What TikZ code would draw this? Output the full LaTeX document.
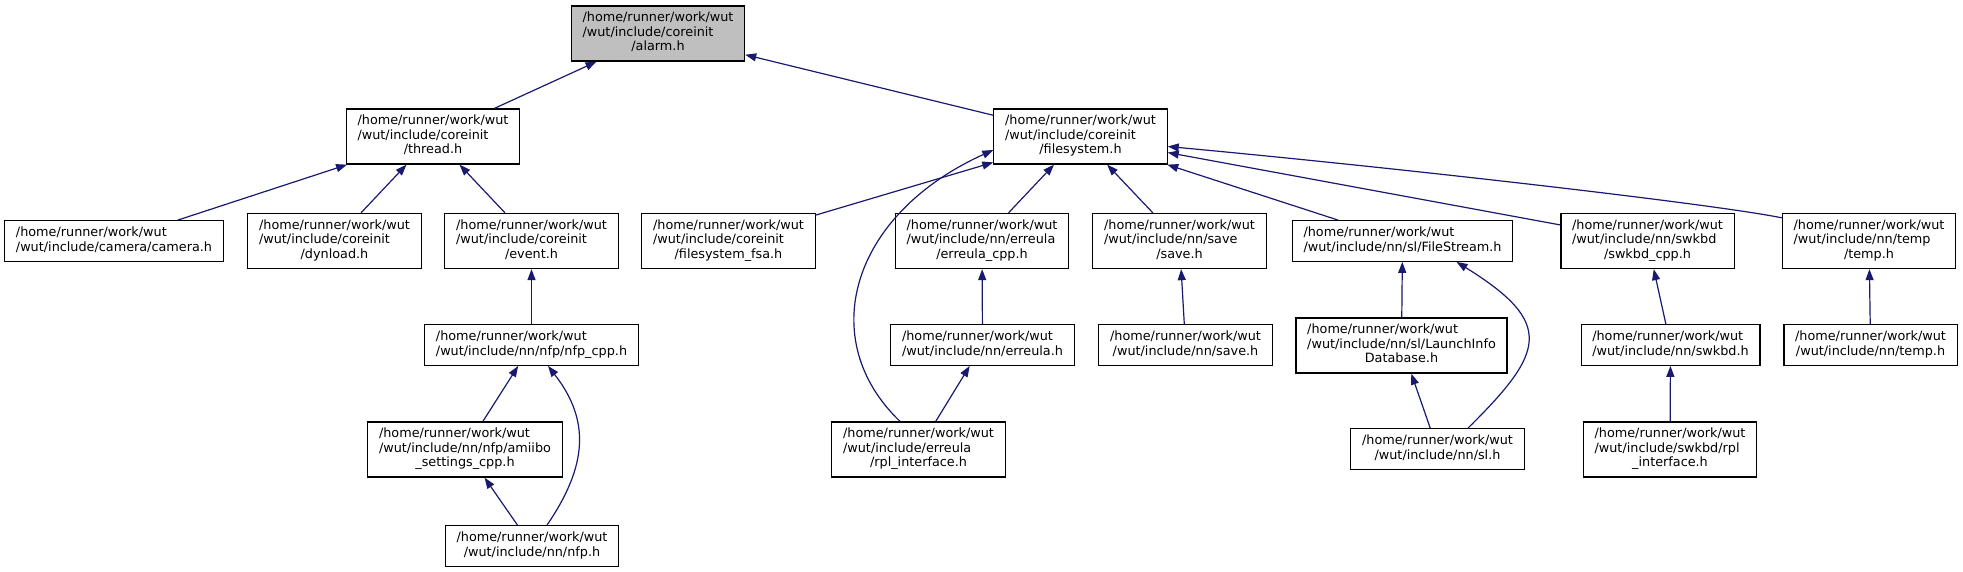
\documentclass[tikz,border=0pt]{standalone}
\usepackage{fontspec}
\setmainfont{DejaVu Sans}
\usepackage{tikz}
\usetikzlibrary{arrows.meta,calc}

\definecolor{edgeblue}{HTML}{191970}
\definecolor{rootgray}{HTML}{BFBFBF}

% header box text: leading lines flush left, last line centred
\newcommand{\hpathiii}[3]{\begin{tabular}{@{}l@{}}#1\\#2\\\multicolumn{1}{@{}c@{}}{#3}\end{tabular}}
\newcommand{\hpathii}[2]{\begin{tabular}{@{}l@{}}#1\\\multicolumn{1}{@{}c@{}}{#2}\end{tabular}}

\begin{document}
\begin{tikzpicture}[x=0.5pt, y=-0.5pt,
  hdr/.style={draw=black, line width=0.6pt, fill=white, inner xsep=5.6pt, inner ysep=2.9pt,
    font=\fontsize{6.4}{7.25}\selectfont},
  dep/.style={draw=edgeblue, line width=0.6pt, -{Triangle[length=5.5pt, width=4pt]}}]
\useasboundingbox (0,0) rectangle (1963,572);

% Root
\node[hdr, fill=rootgray] (alarm) at (658,33.5) {\hpathiii{/home/runner/work/wut}{/wut/include/coreinit}{/alarm.h}};

% Row 1
\node[hdr] (thread) at (433,136.5) {\hpathiii{/home/runner/work/wut}{/wut/include/coreinit}{/thread.h}};
\node[hdr] (fs) at (1080.5,136.5) {\hpathiii{/home/runner/work/wut}{/wut/include/coreinit}{/filesystem.h}};

% Row 2
\node[hdr] (camera) at (114,241) {\hpathii{/home/runner/work/wut}{/wut/include/camera/camera.h}};
\node[hdr] (dynload) at (334.5,241) {\hpathiii{/home/runner/work/wut}{/wut/include/coreinit}{/dynload.h}};
\node[hdr] (event) at (531.5,241) {\hpathiii{/home/runner/work/wut}{/wut/include/coreinit}{/event.h}};
\node[hdr] (fsa) at (728.5,241) {\hpathiii{/home/runner/work/wut}{/wut/include/coreinit}{/filesystem\_fsa.h}};
\node[hdr] (errcpp) at (982,241) {\hpathiii{/home/runner/work/wut}{/wut/include/nn/erreula}{/erreula\_cpp.h}};
\node[hdr] (savedir) at (1179.5,241) {\hpathiii{/home/runner/work/wut}{/wut/include/nn/save}{/save.h}};
\node[hdr] (filestream) at (1402.5,241) {\hpathii{/home/runner/work/wut}{/wut/include/nn/sl/FileStream.h}};
\node[hdr] (swkbdcpp) at (1647.5,241) {\hpathiii{/home/runner/work/wut}{/wut/include/nn/swkbd}{/swkbd\_cpp.h}};
\node[hdr] (tempdir) at (1869,241) {\hpathiii{/home/runner/work/wut}{/wut/include/nn/temp}{/temp.h}};

% Row 3
\node[hdr] (nfpcpp) at (531.5,345) {\hpathii{/home/runner/work/wut}{/wut/include/nn/nfp/nfp\_cpp.h}};
\node[hdr] (erreula) at (982.5,345) {\hpathii{/home/runner/work/wut}{/wut/include/nn/erreula.h}};
\node[hdr] (save) at (1185.5,345) {\hpathii{/home/runner/work/wut}{/wut/include/nn/save.h}};
\node[hdr] (launchinfo) at (1401.5,345.5) {\hpathiii{/home/runner/work/wut}{/wut/include/nn/sl/LaunchInfo}{Database.h}};
\node[hdr] (swkbd) at (1670.5,345) {\hpathii{/home/runner/work/wut}{/wut/include/nn/swkbd.h}};
\node[hdr] (temp) at (1870.5,345) {\hpathii{/home/runner/work/wut}{/wut/include/nn/temp.h}};

% Row 4
\node[hdr] (amiibo) at (465,449.5) {\hpathiii{/home/runner/work/wut}{/wut/include/nn/nfp/amiibo}{\_settings\_cpp.h}};
\node[hdr] (errrpl) at (918.5,449.5) {\hpathiii{/home/runner/work/wut}{/wut/include/erreula}{/rpl\_interface.h}};
\node[hdr] (sl) at (1437.5,449) {\hpathii{/home/runner/work/wut}{/wut/include/nn/sl.h}};
\node[hdr] (swkbdrpl) at (1670,449.5) {\hpathiii{/home/runner/work/wut}{/wut/include/swkbd/rpl}{\_interface.h}};

% Row 5
\node[hdr] (nfp) at (532,546) {\hpathii{/home/runner/work/wut}{/wut/include/nn/nfp.h}};

% Straight includes
\foreach \src/\dst in {thread/alarm, fs/alarm, camera/thread, dynload/thread, event/thread,
    nfpcpp/event, amiibo/nfpcpp, nfp/amiibo, fsa/fs, errcpp/fs, savedir/fs,
    filestream/fs, swkbdcpp/fs, erreula/errcpp, errrpl/erreula, save/savedir,
    launchinfo/filestream, sl/launchinfo, swkbd/swkbdcpp, swkbdrpl/swkbd, temp/tempdir} {
  \draw[dep] (\src) -- (\dst);
}

% Curved includes
\draw[dep] ($(nfp.north)+(15,0)$) .. controls (588,465) and (590,420) .. ($(nfpcpp.south)+(16.5,0)$);
\draw[dep] ($(errrpl.north)+(-18.5,0)$) .. controls (815,340) and (850,215) .. ($(fs.west)+(0,13.5)$);
\draw[dep] ($(sl.north)+(30.5,0)$) .. controls (1545,352) and (1555,323) .. ($(filestream.south)+(54,0)$);
\draw[dep] ($(tempdir.north west)+(0,5)$) .. controls (1720,205) and (1420,170) .. ($(fs.east)+(0,10)$);
\end{tikzpicture}
\end{document}
